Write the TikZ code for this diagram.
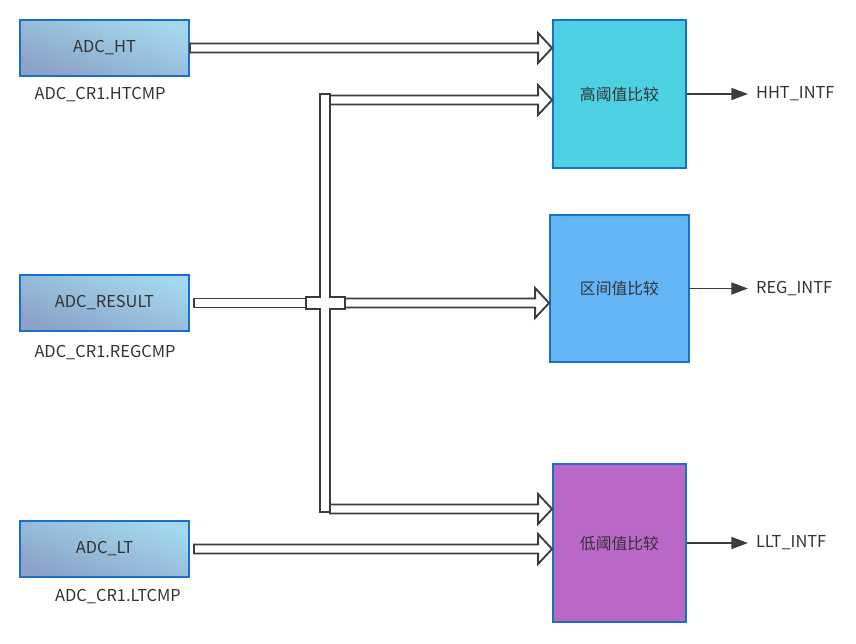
\documentclass[tikz,border=0pt]{standalone}
\usepackage{fontspec}
\setmainfont{Noto Sans CJK SC}
\usetikzlibrary{arrows.meta, positioning, calc}
\definecolor{adcTop}{HTML}{A3D8EE}
\definecolor{adcBottom}{HTML}{8AA2C8}
\definecolor{boxEdge}{HTML}{1A6FC9}
\definecolor{mCyan}{HTML}{4DD0E1}
\definecolor{mSky}{HTML}{64B5F6}
\definecolor{mViolet}{HTML}{BA68C8}
\definecolor{mPipe}{HTML}{3C3C3C}

% hollow bus arrow from #1 to #2 (horizontal)
\newcommand{\fatarrow}[2]{%
  \draw[pipe] let \p1=(#1), \p2=(#2) in
    (\x1,\y1+1.35mm) -- (\x2-4.2mm,\y1+1.35mm) -- (\x2-4.2mm,\y1+4.5mm)
    -- (\x2,\y1) -- (\x2-4.2mm,\y1-4.5mm) -- (\x2-4.2mm,\y1-1.35mm)
    -- (\x1,\y1-1.35mm) -- cycle;}

\begin{document}
\begin{tikzpicture}[x=0.3mm, y=-0.3mm,
    every node/.style={font=\fontsize{14}{16}\selectfont, text=black!80},
    src/.style={draw=boxEdge, line width=1.6pt, top color=adcTop, bottom color=adcBottom,
      shading angle=-20, minimum width=50.7mm, minimum height=16.8mm},
    cmp/.style={draw=boxEdge, line width=1.6pt, font=\fontsize{13.5}{16}\selectfont},
    pipe/.style={draw=mPipe, line width=1.6pt, fill=white, line join=miter},
    flagarrow/.style={-{Triangle[length=5mm, width=3.6mm]}, line width=1.6pt, mPipe}]
    \useasboundingbox (0,0) rectangle (856,643);

    % sources
    \node[src] (ht) at (104.5,48) {ADC\_HT};
    \node[src] (res) at (104.5,303) {ADC\_RESULT};
    \node[src] (lt) at (104.5,549) {ADC\_LT};
    \node (htLbl) at (100,95) {ADC\_CR1.HTCMP};
    \node (resLbl) at (105,353) {ADC\_CR1.REGCMP};
    \node (ltLbl) at (118,597) {ADC\_CR1.LTCMP};

    % comparators
    \node[cmp, fill=mCyan, minimum width=39.9mm, minimum height=44.4mm] (high) at (619.5,94) {高阈值比较};
    \node[cmp, fill=mSky, minimum width=41.7mm, minimum height=44.1mm] (reg) at (619.5,288.5) {区间值比较};
    \node[cmp, fill=mViolet, minimum width=39.9mm, minimum height=47.4mm] (low) at (619.5,543) {低阈值比较};

    % flags
    \node[right=19.5mm of high] (hhtOut) {HHT\_INTF};
    \node[right=18.6mm of reg] (regOut) {REG\_INTF};
    \node[right=19.5mm of low] (lltOut) {LLT\_INTF};
    \draw[flagarrow, shorten >=1.2mm] (high) -- (hhtOut);
    \draw[flagarrow, shorten >=1.2mm] (reg) -- (regOut);
    \draw[flagarrow, shorten >=1.2mm] (low) -- (lltOut);

    % bus
    \draw[pipe] (320,94) -- (330,94) -- (330,297) -- (345,297) -- (345,309) -- (330,309)
      -- (330,512) -- (320,512) -- (320,309) -- (306,309) -- (306,297) -- (320,297) -- cycle;
    \coordinate (busTop) at (330,100);
    \coordinate (busLow) at (330,509);
    \coordinate (jnWest) at (306,303);
    \coordinate (jnEast) at (345,303);

    \fatarrow{ht.east}{high.west |- ht.east}
    \fatarrow{busTop}{high.west |- busTop}
    \draw[pipe] ([shift={(4,-4.5)}]res.east) rectangle ([shift={(0,4.5)}]jnWest);
    \fatarrow{jnEast}{reg.west |- jnEast}
    \fatarrow{busLow}{low.west |- busLow}
    \fatarrow{[xshift=1.2mm]lt.east}{low.west |- lt.east}
  \end{tikzpicture}
\end{document}
